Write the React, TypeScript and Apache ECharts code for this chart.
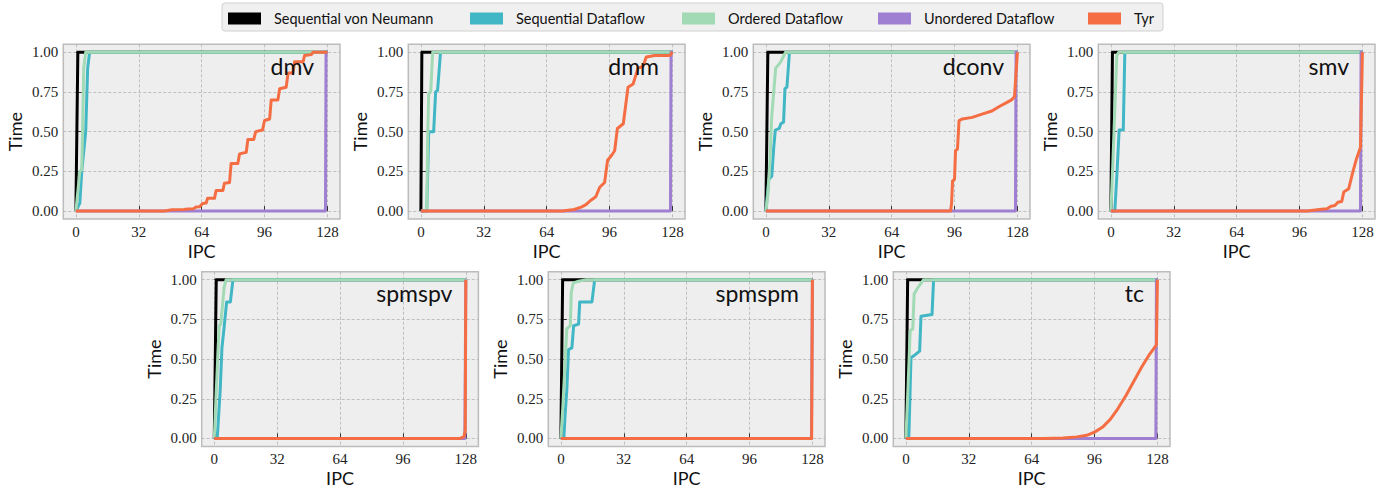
import React, { useEffect, useRef } from "react";
import * as echarts from "echarts";

// ---------- data ----------
const seriesNames = ["Sequential von Neumann", "Sequential Dataflow", "Ordered Dataflow", "Unordered Dataflow", "Tyr"];
const seriesColors = ["#000000", "#41b6c4", "#a1dab4", "#9e7fd2", "#f46d43"];
const panelNames = ["dmv", "dmm", "dconv", "smv", "spmspv", "spmspm", "tc"];
const xTicks = [0, 32, 64, 96, 128];
const yTicks = [0, 0.25, 0.5, 0.75, 1];

// dmv
const dmvVonNeumann = [[0, 0], [1, 1], [128, 1]];
const dmvSeqDataflow = [[0, 0], [2, 0.05], [3, 0.25], [5, 0.5], [6, 0.9], [7, 1], [128, 1]];
const dmvOrdered = [[0, 0], [2, 0.25], [3, 0.26], [4, 0.9], [5, 1], [128, 1]];
const dmvUnordered = [[0, 0], [127, 0], [127.3, 1], [128, 1]];
const dmvTyr = [[0, 0], [45, 0], [49, 0.008], [55, 0.01], [57, 0.013], [60, 0.015], [61, 0.025], [63, 0.027], [64.5, 0.048], [66.3, 0.05], [67, 0.08], [70.5, 0.08], [71.4, 0.13], [74.8, 0.13], [75.6, 0.175], [78.2, 0.18], [79, 0.3], [82.4, 0.3], [83.3, 0.36], [86.7, 0.37], [87.5, 0.45], [90.5, 0.45], [91.5, 0.5], [95, 0.51], [96, 0.57], [98.6, 0.58], [99.4, 0.7], [102.8, 0.7], [103.7, 0.77], [107, 0.78], [108, 0.87], [110.5, 0.87], [111.3, 0.94], [115.6, 0.94], [116.4, 0.98], [119.8, 0.985], [120.7, 1], [128, 1]];

// dmm
const dmmVonNeumann = [[0, 0], [0.5, 1], [128, 1]];
const dmmSeqDataflow = [[0, 0], [3, 0], [4, 0.5], [6.5, 0.5], [7.5, 0.75], [8.5, 0.76], [10, 1], [128, 1]];
const dmmOrdered = [[0, 0], [3, 0], [3.5, 0.5], [4, 0.74], [5, 0.75], [6, 1], [128, 1]];
const dmmUnordered = [[0, 0], [127, 0], [127.3, 1], [128, 1]];
const dmmTyr = [[0, 0], [72, 0], [78, 0.01], [81.6, 0.025], [84, 0.04], [86.7, 0.07], [89, 0.09], [91, 0.15], [93.5, 0.18], [95, 0.32], [97, 0.35], [98.6, 0.38], [100, 0.52], [103, 0.55], [105.4, 0.78], [108, 0.8], [110.5, 0.9], [113, 0.91], [114.7, 0.97], [119, 0.98], [126.6, 0.98], [128, 1]];

// dconv
const dconvVonNeumann = [[0, 0], [1, 1], [128, 1]];
const dconvSeqDataflow = [[0, 0], [1.5, 0.2], [3, 0.22], [4, 0.4], [4.8, 0.51], [6.8, 0.52], [7.6, 0.55], [9, 0.56], [9.7, 0.77], [10.7, 0.78], [12, 1], [128, 1]];
const dconvOrdered = [[0, 0], [1, 0.1], [2, 0.3], [3, 0.6], [4, 0.75], [5, 0.9], [7, 0.93], [8, 0.95], [10, 1], [128, 1]];
const dconvUnordered = [[0, 0], [127, 0], [127.3, 1], [128, 1]];
const dconvTyr = [[0, 0], [94, 0], [94.5, 0.05], [95, 0.19], [96, 0.2], [96.5, 0.38], [97.5, 0.39], [98.3, 0.57], [100, 0.58], [105, 0.59], [110, 0.61], [115, 0.63], [119, 0.66], [122, 0.68], [125, 0.7], [126.5, 0.72], [128, 1]];

// smv
const smvVonNeumann = [[0, 0], [0.8, 1], [128, 1]];
const smvSeqDataflow = [[0, 0], [2, 0], [3.2, 0.26], [4.2, 0.51], [6.3, 0.51], [7.1, 1], [128, 1]];
const smvOrdered = [[0, 0], [1, 0.3], [3, 0.98], [4, 1], [128, 1]];
const smvUnordered = [[0, 0], [127, 0], [127.3, 1], [128, 1]];
const smvTyr = [[0, 0], [100, 0], [106, 0.01], [110, 0.015], [112, 0.03], [114, 0.035], [115.5, 0.055], [117.5, 0.06], [118.5, 0.12], [121, 0.14], [123, 0.24], [125, 0.33], [127, 0.4], [128, 1]];

// spmspv
const spmspvVonNeumann = [[0, 0], [1, 1], [128, 1]];
const spmspvSeqDataflow = [[0, 0], [1.5, 0], [2.2, 0.14], [3, 0.3], [3.9, 0.57], [5, 0.7], [6.3, 0.86], [8.2, 0.86], [9.5, 1], [128, 1]];
const spmspvOrdered = [[0, 0], [1, 0.3], [2.5, 0.71], [3.3, 0.72], [5, 0.95], [6, 1], [128, 1]];
const spmspvUnordered = [[0, 0], [127.5, 0], [128, 1]];
const spmspvTyr = [[0, 0], [125, 0], [127, 0.01], [127.7, 0.05], [128, 1]];

// spmspm
const spmspmVonNeumann = [[0, 0], [0.9, 1], [128, 1]];
const spmspmSeqDataflow = [[0, 0], [1.5, 0], [2.2, 0.16], [3, 0.3], [3.9, 0.56], [5.6, 0.57], [6.5, 0.71], [9, 0.72], [9.6, 0.86], [15.8, 0.86], [17.2, 1], [128, 1]];
const spmspmOrdered = [[0, 0], [1, 0.2], [3, 0.69], [4.8, 0.71], [5.3, 0.92], [6.3, 0.98], [9, 0.99], [13, 1], [128, 1]];
const spmspmUnordered = [[0, 0], [127.5, 0], [128, 1]];
const spmspmTyr = [[0, 0], [127.6, 0], [128, 1]];

// tc
const tcVonNeumann = [[0, 0], [0.9, 1], [128, 1]];
const tcSeqDataflow = [[0, 0], [1.5, 0], [2.6, 0.51], [4, 0.52], [7, 0.55], [7.7, 0.77], [13.3, 0.78], [14.1, 1], [128, 1]];
const tcOrdered = [[0, 0], [1, 0.3], [2.2, 0.68], [3.5, 0.69], [4.2, 0.91], [5.6, 0.94], [7.3, 0.97], [9, 1], [128, 1]];
const tcUnordered = [[0, 0], [127.2, 0], [127.5, 1], [128, 1]];
const tcTyr = [[0, 0], [70, 0], [80, 0.003], [87, 0.01], [92, 0.02], [96, 0.04], [100, 0.07], [104, 0.12], [108, 0.19], [112, 0.27], [116, 0.36], [120, 0.45], [124, 0.53], [127.5, 0.59], [128, 1]];

const panelData = [
  [dmvVonNeumann, dmvSeqDataflow, dmvOrdered, dmvUnordered, dmvTyr],
  [dmmVonNeumann, dmmSeqDataflow, dmmOrdered, dmmUnordered, dmmTyr],
  [dconvVonNeumann, dconvSeqDataflow, dconvOrdered, dconvUnordered, dconvTyr],
  [smvVonNeumann, smvSeqDataflow, smvOrdered, smvUnordered, smvTyr],
  [spmspvVonNeumann, spmspvSeqDataflow, spmspvOrdered, spmspvUnordered, spmspvTyr],
  [spmspmVonNeumann, spmspmSeqDataflow, spmspmOrdered, spmspmUnordered, spmspmTyr],
  [tcVonNeumann, tcSeqDataflow, tcOrdered, tcUnordered, tcTyr],
];

// ---------- layout ----------
const W = 1388;
const H = 491;
const gridLayout = [
  { left: 63.3, top: 44.3 },
  { left: 408.3, top: 44.3 },
  { left: 753.3, top: 44.3 },
  { left: 1098.3, top: 44.3 },
  { left: 201.7, top: 271.7 },
  { left: 548.3, top: 271.7 },
  { left: 893.3, top: 271.7 },
];
const GW = 276.7;
const GH = 174.7;
const legendLefts = [228, 470, 682, 878, 1088];

export default function App() {
  const ref = useRef<HTMLDivElement>(null);
  useEffect(() => {
    document.body.style.margin = "0";
    const chart = echarts.init(ref.current!, null, { renderer: "svg" });
    const serifFont = "Liberation Serif";
    const sansFont = "Lato";

    const grids: any[] = [];
    const xAxes: any[] = [];
    const yAxes: any[] = [];
    const series: any[] = [];
    const titles: any[] = [];

    panelNames.forEach((pn, i) => {
      const g = gridLayout[i];
      grids.push({
        left: g.left,
        top: g.top,
        width: GW,
        height: GH,
        show: true,
        backgroundColor: "#eeeeee",
        borderColor: "#bcbcbc",
        borderWidth: 1.5,
        containLabel: false,
      });
      const splitLine = { show: true, lineStyle: { color: "#b2b2b2", width: 0.8, type: [3, 2] } };
      xAxes.push({
        gridIndex: i,
        type: "value",
        min: -6.4,
        max: 134.4,
        name: "IPC",
        nameLocation: "middle",
        nameGap: 23,
        nameTextStyle: { fontFamily: sansFont, fontSize: 18, color: "#111" },
        axisLine: { show: false },
        axisTick: { show: true, inside: true, length: 5, customValues: xTicks, lineStyle: { color: "#333", width: 1 } },
        axisLabel: { customValues: xTicks, fontFamily: serifFont, fontSize: 15, color: "#222", margin: 5 },
        splitLine,
      });
      yAxes.push({
        gridIndex: i,
        type: "value",
        min: -0.05,
        max: 1.05,
        name: "Time",
        nameLocation: "middle",
        nameGap: 39,
        nameTextStyle: { fontFamily: sansFont, fontSize: 18, color: "#111" },
        axisLine: { show: false },
        axisTick: { show: true, inside: true, length: 6, customValues: yTicks, lineStyle: { color: "#333", width: 1 } },
        axisLabel: {
          customValues: yTicks,
          fontFamily: serifFont,
          fontSize: 15,
          color: "#222",
          margin: 5,
          formatter: (v: number) => v.toFixed(2),
        },
        splitLine,
      });
      titles.push({
        text: pn,
        right: W - (g.left + GW) + 26,
        top: g.top + 10,
        padding: 0,
        z: 10,
        textStyle: { fontFamily: sansFont, fontSize: 23, fontWeight: "normal", color: "#111" },
      });
      panelData[i].forEach((d, k) => {
        series.push({
          type: "line",
          name: seriesNames[k],
          xAxisIndex: i,
          yAxisIndex: i,
          data: d,
          showSymbol: false,
          symbol: "none",
          color: seriesColors[k],
          lineStyle: { width: 3, color: seriesColors[k], join: "round" },
          z: 2,
          silent: true,
        });
      });
    });

    const legends = seriesNames.map((n, k) => ({
      data: [n],
      left: legendLefts[k],
      top: 11,
      padding: 0,
      icon: "rect",
      itemWidth: 33,
      itemHeight: 12,
      textStyle: { fontFamily: sansFont, fontSize: 14.5, color: "#111", padding: [0, 0, 0, 8] },
    }));

    chart.setOption({
      animation: false,
      backgroundColor: "#ffffff",
      title: titles,
      legend: legends,
      grid: grids,
      xAxis: xAxes,
      yAxis: yAxes,
      series,
      graphic: [
        {
          type: "rect",
          shape: { x: 222, y: 3, width: 941, height: 28, r: 3 },
          style: { fill: "#f0f0f0", stroke: "#d0d0d0", lineWidth: 1 },
          z: -1,
          silent: true,
        },
      ],
    });
    return () => chart.dispose();
  }, []);
  return <div ref={ref} style={{ width: W, height: H }} />;
}
